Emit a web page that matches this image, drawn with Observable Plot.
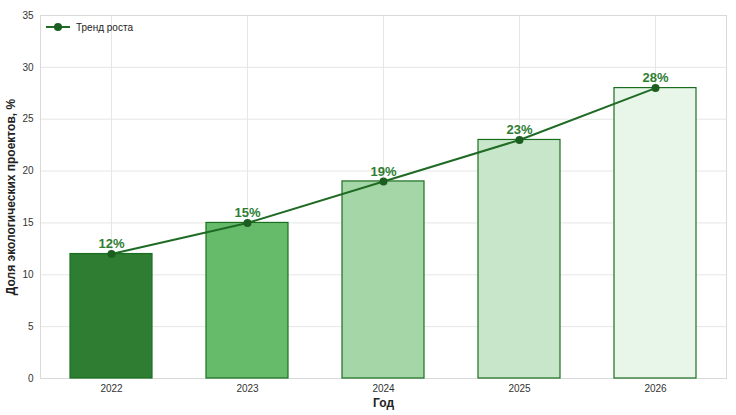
<!DOCTYPE html>
<html><head><meta charset="utf-8">
<script src="https://cdn.jsdelivr.net/npm/d3@7"></script>
<script src="https://cdn.jsdelivr.net/npm/@observablehq/plot@0.6"></script>
<style>
body{margin:0;background:#fff;font-family:"Liberation Sans",Arial,sans-serif;}
#wrap{position:relative;width:736px;height:415px;}
#legend{position:absolute;left:46px;top:21px;font-size:10px;color:#222;display:flex;align-items:center;gap:6px;}
</style></head>
<body><div id="wrap"><div id="chart"></div>
<div id="legend"><svg width="24" height="12"><line x1="0" y1="6" x2="24" y2="6" stroke="#1f6b25" stroke-width="2"/><circle cx="12" cy="6" r="4" fill="#1b5e20"/></svg><span>Тренд роста</span></div></div>
<script>
const years = ["2022","2023","2024","2025","2026"];
const shares = [12,15,19,23,28];
const barColors = ["#2e7d32","#66bb6a","#a5d6a7","#c8e6c9","#e8f5e9"];
const yTicks = [0,5,10,15,20,25,30,35];
const data = years.map((y,i)=>({year:y,value:shares[i],color:barColors[i]}));
const chart = Plot.plot({
  width:736,height:415,
  marginLeft:40,marginRight:10,marginTop:15,marginBottom:37,
  style:{fontFamily:"Liberation Sans, Arial, sans-serif",fontSize:"10px",color:"#333"},
  x:{domain:years,paddingInner:0.4,paddingOuter:0.21,label:"Год",labelAnchor:"center",labelOffset:28,labelArrow:"none",tickSize:0,tickPadding:6},
  y:{domain:[0,35],ticks:yTicks,label:"Доля экологических проектов, %",labelAnchor:"center",labelOffset:34,labelArrow:"none",tickSize:0,tickPadding:7},
  marks:[
    Plot.gridY(yTicks,{stroke:"#e6e6e6",strokeOpacity:1}),
    Plot.gridX(years,{stroke:"#e6e6e6",strokeOpacity:1}),
    Plot.frame({stroke:"#d9d9d9"}),
    Plot.barY(data,{x:"year",y:"value",fill:"color",stroke:"#1b6e20",strokeWidth:1.2}),
    Plot.lineY(data,{x:"year",y:"value",stroke:"#1f6b25",strokeWidth:2}),
    Plot.dot(data,{x:"year",y:"value",r:4,fill:"#1b5e20"}),
    Plot.text(data,{x:"year",y:"value",text:d=>d.value+"%",dy:-10,fill:"#2e7d32",fontWeight:"bold",fontSize:13})
  ]
});
document.getElementById("chart").appendChild(chart);
chart.querySelectorAll("g[aria-label='x-axis label'] text, g[aria-label='y-axis label'] text").forEach(t=>{t.style.fontWeight="bold";t.style.fontSize="12px";t.style.fill="#222";});
</script></body></html>
